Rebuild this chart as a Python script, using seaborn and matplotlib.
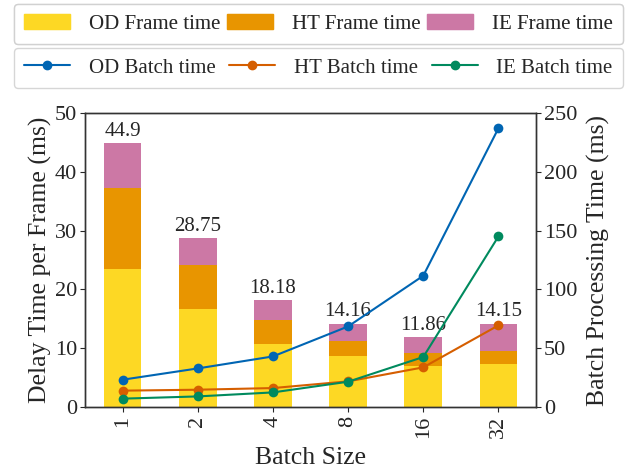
import matplotlib
matplotlib.use("Agg")
import matplotlib.pyplot as plt
import seaborn as sns
import numpy as np
import pandas as pd
from matplotlib.patches import Patch
from matplotlib.lines import Line2D

batch_sizes = ["1", "2", "4", "8", "16", "32"]
od_frame = [23.4, 16.6, 10.7, 8.6, 6.9, 7.3]
ht_frame = [13.8, 7.5, 4.15, 2.7, 2.3, 2.2]
totals = [44.9, 28.75, 18.18, 14.16, 11.86, 14.15]
total_labels = ["44.9", "28.75", "18.18", "14.16", "11.86", "14.15"]
od_batch = [23.2, 32.8, 43.0, 68.5, 111.6, 237.0]
ht_batch = [13.9, 14.7, 16.1, 21.8, 33.7, 69.4]
ie_batch = [7.1, 9.0, 12.4, 21.5, 42.5, 145.0]

c_yellow = "#FDD824"
c_orange = "#E89500"
c_pink = "#CC78A5"
c_blue = "#0065B3"
c_red = "#D55E00"
c_green = "#008A5E"

sns.set_style("ticks")
plt.rcParams["font.family"] = ["Liberation Serif", "DejaVu Serif"]

df = pd.DataFrame({
    "batch": batch_sizes,
    "od": od_frame,
    "odht": np.array(od_frame) + np.array(ht_frame),
    "total": totals,
})

fig = plt.figure(figsize=(6.35, 4.73), dpi=100)
ax = fig.add_axes([85 / 635, 1 - 407 / 473, 451 / 635, 294 / 473])

sns.barplot(data=df, x="batch", y="total", color=c_pink, width=0.5, ax=ax,
            saturation=1, linewidth=0)
sns.barplot(data=df, x="batch", y="odht", color=c_orange, width=0.5, ax=ax,
            saturation=1, linewidth=0)
sns.barplot(data=df, x="batch", y="od", color=c_yellow, width=0.5, ax=ax,
            saturation=1, linewidth=0)

for i, (t, lab) in enumerate(zip(totals, total_labels)):
    ax.text(i, t + 0.4, lab, ha="center", va="bottom", fontsize=15)

ax.set_ylim(0, 50)
ax.set_yticks(range(0, 51, 10))
ax.set_xlim(-0.5, 5.5)
ax.set_xlabel("Batch Size", fontsize=18.5, labelpad=6)
ax.set_ylabel("Delay Time per Frame (ms)", fontsize=18.5, labelpad=2)
ax.tick_params(axis="y", labelsize=16, pad=2)
ax.tick_params(axis="x", labelsize=16, rotation=90, pad=3)

ax2 = ax.twinx()
xpos = np.arange(len(batch_sizes))
for vals, col in [(od_batch, c_blue), (ht_batch, c_red), (ie_batch, c_green)]:
    sns.lineplot(x=xpos, y=vals, color=col, marker="o", markersize=7,
                 markeredgewidth=0, linewidth=1.5, ax=ax2)
ax2.set_ylim(0, 250)
ax2.set_yticks(range(0, 251, 50))
ax2.set_ylabel("Batch Processing Time (ms)", fontsize=18.5, labelpad=7)
ax2.tick_params(axis="y", labelsize=16, pad=2)
ax2.set_xlim(-0.5, 5.5)

for a in (ax, ax2):
    for s in a.spines.values():
        s.set_color("#333333")
        s.set_linewidth(1.0)

bar_handles = [Patch(color=c_yellow, label="OD Frame time"),
               Patch(color=c_orange, label="HT Frame time"),
               Patch(color=c_pink, label="IE Frame time")]
line_handles = [Line2D([], [], color=c_blue, marker="o", markersize=6, lw=1.5, label="OD Batch time"),
                Line2D([], [], color=c_red, marker="o", markersize=6, lw=1.5, label="HT Batch time"),
                Line2D([], [], color=c_green, marker="o", markersize=6, lw=1.5, label="IE Batch time")]

common = dict(loc="lower left", ncol=3, mode="expand", fontsize=15,
              handlelength=2.2, borderaxespad=0, frameon=True,
              edgecolor="#cccccc", fancybox=True, columnspacing=0.8,
              borderpad=0.5, handletextpad=0.9)
leg1 = fig.legend(handles=bar_handles,
                  bbox_to_anchor=(14 / 635, 1 - 44 / 473, 609 / 635, 0.01), **common)
leg2 = fig.legend(handles=line_handles,
                  bbox_to_anchor=(14 / 635, 1 - 88 / 473, 609 / 635, 0.01), **common)
fig.add_artist(leg1)

fig.savefig("out.png", dpi=100)
